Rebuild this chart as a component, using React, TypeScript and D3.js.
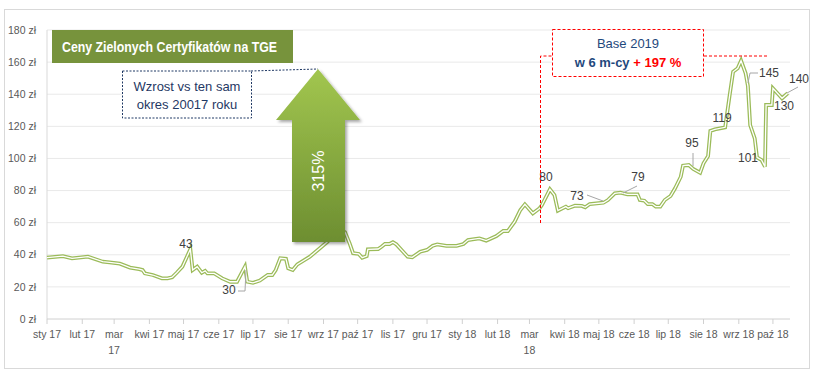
import React from 'react';
import * as d3 from 'd3';

const priceDates = [
  "2017-01-01", "2017-01-15", "2017-01-23", "2017-02-06", "2017-02-19", "2017-02-25", "2017-03-06", "2017-03-15",
  "2017-03-23", "2017-03-26", "2017-03-28", "2017-04-04", "2017-04-12", "2017-04-17", "2017-04-21", "2017-04-25",
  "2017-04-30", "2017-05-07", "2017-05-09", "2017-05-13", "2017-05-17", "2017-05-20", "2017-05-22", "2017-05-28",
  "2017-06-04", "2017-06-11", "2017-06-17", "2017-06-24", "2017-06-26", "2017-07-01", "2017-07-07", "2017-07-14",
  "2017-07-18", "2017-07-21", "2017-07-25", "2017-07-30", "2017-08-01", "2017-08-05", "2017-08-09", "2017-08-20",
  "2017-08-27", "2017-09-04", "2017-09-15", "2017-09-20", "2017-09-24", "2017-09-27", "2017-10-02", "2017-10-05",
  "2017-10-09", "2017-10-10", "2017-10-19", "2017-10-22", "2017-10-25", "2017-10-29", "2017-11-01", "2017-11-04",
  "2017-11-10", "2017-11-14", "2017-11-18", "2017-11-25", "2017-12-01", "2017-12-06", "2017-12-10", "2017-12-18",
  "2017-12-27", "2018-01-02", "2018-01-06", "2018-01-10", "2018-01-16", "2018-01-22", "2018-01-31", "2018-02-06",
  "2018-02-10", "2018-02-16", "2018-02-21", "2018-02-25", "2018-03-04", "2018-03-10", "2018-03-12", "2018-03-19",
  "2018-03-23", "2018-03-26", "2018-04-02", "2018-04-04", "2018-04-10", "2018-04-16", "2018-04-19", "2018-04-23",
  "2018-05-05", "2018-05-09", "2018-05-15", "2018-05-20", "2018-05-26", "2018-06-04", "2018-06-06", "2018-06-10",
  "2018-06-13", "2018-06-17", "2018-06-20", "2018-06-24", "2018-06-28", "2018-07-03", "2018-07-07", "2018-07-12",
  "2018-07-14", "2018-07-19", "2018-07-23", "2018-07-29", "2018-08-01", "2018-08-05", "2018-08-07", "2018-08-11",
  "2018-08-20", "2018-08-24", "2018-08-27", "2018-08-31", "2018-09-03", "2018-09-07", "2018-09-09", "2018-09-11",
  "2018-09-15", "2018-09-17", "2018-09-21", "2018-09-24", "2018-09-25", "2018-09-30", "2018-10-01", "2018-10-09",
  "2018-10-14",
];

const priceValues = [
  38.2, 39.2, 37.8, 38.8, 35.7, 35.3, 34.5, 32.0,
  31.0, 30.5, 28.4, 27.4, 25.3, 25.3, 26.0, 28.8,
  32.6, 43.5, 30.5, 32.6, 28.8, 30.0, 28.4, 28.4,
  25.3, 23.2, 23.2, 32.6, 23.2, 22.5, 23.9, 27.4,
  27.4, 30.5, 37.8, 37.5, 31.6, 30.5, 34.0, 38.8,
  43.0, 47.8, 56.0, 54.0, 47.0, 41.0, 40.5, 38.2,
  39.2, 43.4, 43.6, 45.0, 46.7, 46.7, 47.8, 46.5,
  41.9, 38.8, 38.4, 41.9, 43.0, 45.6, 46.5, 45.5,
  45.5, 46.7, 49.2, 49.6, 50.2, 48.8, 51.7, 54.8,
  54.8, 60.6, 67.9, 71.4, 65.8, 69.0, 71.0, 80.8,
  77.2, 67.5, 70.0, 69.0, 70.6, 70.4, 69.6, 71.6,
  72.4, 74.1, 78.3, 78.7, 77.6, 77.6, 74.1, 73.7,
  71.6, 71.6, 70.0, 70.0, 74.1, 76.6, 81.4, 88.6,
  95.5, 95.9, 93.4, 91.1, 97.0, 101.5, 117.1, 118.1,
  119.4, 139.5, 154.0, 156.1, 160.9, 153.0, 145.1, 120.8,
  112.5, 100.7, 99.0, 94.9, 133.3, 133.3, 143.7, 137.5,
  140.6,
];

const monthLabels = [
  "sty 17", "lut 17", "mar\n17", "kwi 17", "maj 17", "cze 17", "lip 17", "sie 17", "wrz 17", "paź 17", "lis 17",
  "gru 17", "sty 18", "lut 18", "mar\n18", "kwi 18", "maj 18", "cze 18", "lip 18", "sie 18", "wrz 18", "paź 18",
];

const yTicks = [0, 20, 40, 60, 80, 100, 120, 140, 160, 180];

// data labels placed where the original put them
const pointLabels = [
  { text: "43", x: 186, y: 248 },
  { text: "30", x: 229, y: 294 },
  { text: "80", x: 546, y: 181 },
  { text: "73", x: 577, y: 200 },
  { text: "79", x: 638, y: 181 },
  { text: "95", x: 692, y: 147 },
  { text: "119", x: 722, y: 122 },
  { text: "145", x: 769, y: 77 },
  { text: "101", x: 748, y: 162 },
  { text: "130", x: 784, y: 110 },
  { text: "140", x: 799, y: 83 },
];

const leaders = [
  "M238,291 L245,291 L246,270",
  "M587,195 L603,201",
  "M637,186 L623,193",
  "M693,153 L693,166",
  "M758,73 L750,73 L748,83",
  "M798,87 L787,93",
];

const parse = d3.timeParse("%Y-%m-%d");
const FONT = "'Liberation Sans', Arial, sans-serif";

const App: React.FC = () => {
  const data = priceDates.map((d, i) => ({ date: parse(d) as Date, value: priceValues[i] }));

  const x = d3.scaleTime()
    .domain([new Date(2017, 0, 1), new Date(2018, 9, 16)])
    .range([47, 790]);
  const y = d3.scaleLinear().domain([0, 180]).range([319, 30]);

  const months = d3.timeMonth.range(new Date(2017, 0, 1), new Date(2018, 9, 2));

  const line = d3.line<{ date: Date; value: number }>()
    .x(d => x(d.date))
    .y(d => y(d.value));
  const path = line(data) || "";

  return (
    <svg width={816} height={374} style={{ position: 'absolute', left: 0, top: 0, background: '#fff' }}>
      <defs>
        <linearGradient id="arrowGrad" x1="0" y1="0" x2="0" y2="1">
          <stop offset="0%" stopColor="#a2c64f" />
          <stop offset="100%" stopColor="#6d8e31" />
        </linearGradient>
        <filter id="shadow" x="-20%" y="-20%" width="150%" height="150%">
          <feDropShadow dx="2" dy="2" stdDeviation="1.8" floodColor="#000" floodOpacity="0.35" />
        </filter>
      </defs>

      <rect x={4.5} y={9.5} width={805} height={359} fill="#fff" stroke="#d9d9d9" />

      {/* grid */}
      {yTicks.filter(t => t > 0).map(t => (
        <line key={t} x1={47} x2={790} y1={y(t)} y2={y(t)} stroke="#e9e9e9" strokeWidth={1} />
      ))}
      <line x1={47} x2={47} y1={y(180)} y2={y(0)} stroke="#d9d9d9" />
      <line x1={47} x2={790} y1={y(0)} y2={y(0)} stroke="#d0d0d0" />
      {months.map((m, i) => (
        <line key={i} x1={x(m)} x2={x(m)} y1={y(0)} y2={y(0) + 5} stroke="#d0d0d0" />
      ))}

      {yTicks.map(t => (
        <text key={t} x={36} y={y(t)} dy="0.35em" textAnchor="end" fontFamily={FONT} fontSize={10.5} fill="#595959">
          {t} zł
        </text>
      ))}

      {months.map((m, i) => (
        <text key={i} x={x(m)} y={338} textAnchor="middle" fontFamily={FONT} fontSize={10.5} fill="#595959">
          {monthLabels[i].split("\n").map((s, j) => (
            <tspan key={j} x={x(m)} dy={j === 0 ? 0 : 16}>{s}</tspan>
          ))}
        </text>
      ))}

      {/* double line */}
      <path d={path} fill="none" stroke="#9bbb59" strokeWidth={3.8} strokeLinejoin="miter" />
      <path d={path} fill="none" stroke="#fff" strokeWidth={1.3} strokeLinejoin="miter" />

      {leaders.map((d, i) => (
        <path key={i} d={d} fill="none" stroke="#a6a6a6" strokeWidth={1} />
      ))}
      {pointLabels.map((l, i) => (
        <text key={i} x={l.x} y={l.y} textAnchor="middle" fontFamily={FONT} fontSize={12} fill="#404040">
          {l.text}
        </text>
      ))}

      {/* title */}
      <rect x={52} y={30} width={241} height={33} fill="#77933c" />
      <text x={62} y={51.5} textLength={215} lengthAdjust="spacingAndGlyphs" fontFamily="'Liberation Sans Narrow', 'Liberation Sans', sans-serif"
        fontWeight="bold" fontSize={14} fill="#fff">
        Ceny Zielonych Certyfikatów na TGE
      </text>

      {/* growth box */}
      <line x1={251} y1={71} x2={318} y2={69} stroke="#1f3864" strokeWidth={1} strokeDasharray="2,1.5" />
      <rect x={122.5} y={71} width={129} height={47} fill="#fff" stroke="#1f3864" strokeWidth={1} strokeDasharray="2,1.5" />
      <text x={187} y={91} textAnchor="middle" fontFamily={FONT} fontSize={13} fill="#1f3864">Wzrost vs ten sam</text>
      <text x={187} y={109} textAnchor="middle" fontFamily={FONT} fontSize={13} fill="#1f3864">okres 20017 roku</text>

      {/* arrow */}
      <path d="M318,69 L360,120 L345,120 L345,242 L292,242 L292,120 L276,120 Z" fill="url(#arrowGrad)" filter="url(#shadow)" />
      <text transform="translate(318,171) rotate(-90)" textAnchor="middle" dy="0.35em" fontFamily={FONT} fontSize={16} fill="#fff">
        315%
      </text>

      {/* base 2019 */}
      <path d="M540.5,223 L540.5,56 L552,56" fill="none" stroke="#ff0000" strokeWidth={1} strokeDasharray="3,2" />
      <path d="M704,56 L767,56" fill="none" stroke="#ff0000" strokeWidth={1} strokeDasharray="3,2" />
      <rect x={552.5} y={29.5} width={151} height={47} fill="#fff" stroke="#ff0000" strokeWidth={1} strokeDasharray="3,2" />
      <text x={628} y={48} textAnchor="middle" fontFamily={FONT} fontSize={13} fill="#1f497d">Base 2019</text>
      <text x={628} y={67} textAnchor="middle" fontFamily={FONT} fontSize={13} fontWeight="bold">
        <tspan fill="#1f497d">w 6 m-cy </tspan>
        <tspan fill="#ff0000">+ 197 %</tspan>
      </text>
    </svg>
  );
};

export default App;
